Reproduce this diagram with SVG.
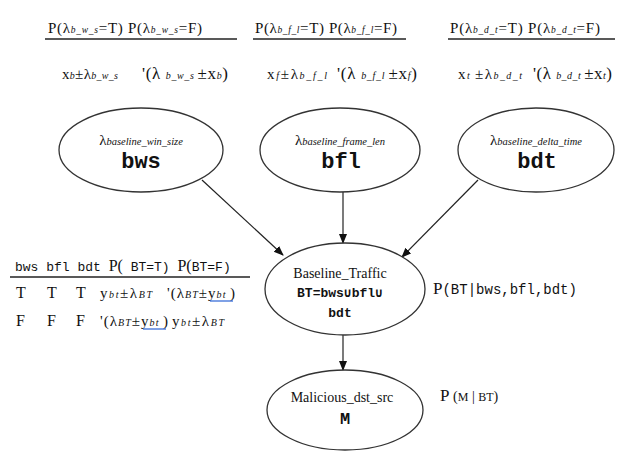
<svg xmlns="http://www.w3.org/2000/svg" width="619" height="452" viewBox="0 0 619 452">
<defs>
<marker id="ah" markerWidth="10" markerHeight="10" refX="9" refY="4" orient="auto" markerUnits="userSpaceOnUse">
<path d="M0,0 L10,4 L0,8 Z" fill="#111"/>
</marker>
<style>
.s{font-family:"Liberation Serif",serif;fill:#111}
.m{font-family:"Liberation Mono",monospace;fill:#111}
.i{font-style:italic}
.n{fill:#fff;stroke:#333;stroke-width:1.3}
.e{stroke:#222;stroke-width:1.2;fill:none;marker-end:url(#ah)}
.rule{stroke:#222;stroke-width:1.5}
</style>
</defs>
<rect width="619" height="452" fill="#fff"/>

<g id="tables">
<line class="rule" x1="45" y1="39" x2="237" y2="39"/>
<line class="rule" x1="253" y1="39" x2="406" y2="39"/>
<line class="rule" x1="448" y1="39" x2="615" y2="39"/>
<text class="s" x="48" y="33" font-size="15" textLength="154">P(λ<tspan class="i" font-size="9.5">b_w_s</tspan>=T) P(λ<tspan class="i" font-size="9.5">b_w_s</tspan>=F)</text>
<text class="s" x="255" y="33" font-size="15" textLength="142">P(λ<tspan class="i" font-size="9.5">b_f_l</tspan>=T) P(λ<tspan class="i" font-size="9.5">b_f_l</tspan>=F)</text>
<text class="s" x="450" y="33" font-size="15" textLength="150">P(λ<tspan class="i" font-size="9.5">b_d_t</tspan>=T) P(λ<tspan class="i" font-size="9.5">b_d_t</tspan>=F)</text>

<text class="s" x="62" y="79" font-size="15" textLength="56">x<tspan class="i" font-size="10">b</tspan>±λ<tspan class="i" font-size="10">b_w_s</tspan></text>
<text class="s" x="142" y="79" font-size="17" textLength="86">'(λ <tspan class="i" font-size="10">b_w_s </tspan>±x<tspan class="i" font-size="10">b</tspan>)</text>
<text class="s" x="267" y="79" font-size="15" textLength="60">x<tspan class="i" font-size="10">f</tspan>±λ<tspan class="i" font-size="10">b_f_l</tspan></text>
<text class="s" x="337" y="79" font-size="17" textLength="80">'(λ <tspan class="i" font-size="10">b_f_l </tspan>±x<tspan class="i" font-size="10">f</tspan>)</text>
<text class="s" x="458" y="79" font-size="15" textLength="64">x<tspan class="i" font-size="10">t </tspan>±λ<tspan class="i" font-size="10">b_d_t</tspan></text>
<text class="s" x="533" y="79" font-size="17" textLength="79">'(λ <tspan class="i" font-size="10">b_d_t </tspan>±x<tspan class="i" font-size="10">t</tspan>)</text>

<line class="rule" x1="10" y1="277" x2="250" y2="277"/>
<text x="15" y="271"><tspan class="m" font-size="13">bws bfl bdt </tspan><tspan class="s" font-size="16">P(</tspan><tspan class="m" font-size="13"> BT=T)  </tspan><tspan class="s" font-size="16">P(</tspan><tspan class="m" font-size="13">BT=F)</tspan></text>
<text class="s" font-size="16" y="298"><tspan x="16">T</tspan><tspan x="47">T</tspan><tspan x="76">T</tspan></text>
<text class="s" x="100" y="298" font-size="15" textLength="52">y<tspan class="i" font-size="10">bt</tspan>±λ<tspan class="i" font-size="10">BT</tspan></text>
<text class="s" x="167" y="298" font-size="15" textLength="68">'(λ<tspan class="i" font-size="10">BT</tspan>±y<tspan class="i" font-size="10">bt </tspan>)</text>
<line x1="210" y1="301" x2="233" y2="301" stroke="#3a6fd8" stroke-width="1.3"/>
<text class="s" font-size="16" y="326"><tspan x="16">F</tspan><tspan x="47">F</tspan><tspan x="76">F</tspan></text>
<text class="s" x="100" y="326" font-size="15" textLength="68">'(λ<tspan class="i" font-size="10">BT</tspan>±y<tspan class="i" font-size="10">bt </tspan>)</text>
<line x1="143" y1="329" x2="166" y2="329" stroke="#3a6fd8" stroke-width="1.3"/>
<text class="s" x="172" y="326" font-size="15" textLength="52">y<tspan class="i" font-size="10">bt</tspan>±λ<tspan class="i" font-size="10">BT</tspan></text>

<text x="433" y="294"><tspan class="s" font-size="17">P</tspan><tspan class="m" font-size="14">(BT|bws,bfl,bdt)</tspan></text>
<text x="440" y="401"><tspan class="s" font-size="17">P </tspan><tspan class="s" font-size="14">(</tspan><tspan class="s" font-size="12">M</tspan><tspan class="s" font-size="14"> | </tspan><tspan class="s" font-size="12">BT</tspan><tspan class="s" font-size="14">)</tspan></text>
</g>

<g id="edges">
<line class="e" x1="202" y1="180" x2="283" y2="255"/>
<line class="e" x1="343" y1="192" x2="343" y2="243"/>
<line class="e" x1="478" y1="180" x2="402" y2="257"/>
<line class="e" x1="343" y1="335" x2="343" y2="370"/>
</g>

<g id="bws">
<ellipse class="n" cx="141" cy="150" rx="82" ry="42"/>
<text class="s" x="141" y="145" font-size="15" text-anchor="middle">λ<tspan class="i" font-size="10.5">baseline_win_size</tspan></text>
<text class="m" x="141" y="168" font-size="22" font-weight="bold" text-anchor="middle">bws</text>
</g>

<g id="bfl">
<ellipse class="n" cx="340" cy="150" rx="80" ry="42"/>
<text class="s" x="340" y="145" font-size="15" text-anchor="middle">λ<tspan class="i" font-size="10.5">baseline_frame_len</tspan></text>
<text class="m" x="341" y="168" font-size="22" font-weight="bold" text-anchor="middle">bfl</text>
</g>

<g id="bdt">
<ellipse class="n" cx="536" cy="150" rx="78" ry="42"/>
<text class="s" x="536" y="145" font-size="15" text-anchor="middle">λ<tspan class="i" font-size="10.5">baseline_delta_time</tspan></text>
<text class="m" x="537" y="168" font-size="22" font-weight="bold" text-anchor="middle">bdt</text>
</g>

<g id="BT">
<ellipse class="n" cx="345" cy="289" rx="80" ry="46"/>
<text class="s" x="340" y="278" font-size="14" text-anchor="middle">Baseline_Traffic</text>
<text class="m" x="340" y="297" font-size="13" font-weight="bold" text-anchor="middle">BT=bws∪bfl∪</text>
<text class="m" x="340" y="317" font-size="13" font-weight="bold" text-anchor="middle">bdt</text>
</g>

<g id="M">
<ellipse class="n" cx="345" cy="410" rx="78" ry="40"/>
<text class="s" x="342" y="402" font-size="14" text-anchor="middle">Malicious_dst_src</text>
<text class="m" x="345" y="424" font-size="17" font-weight="bold" text-anchor="middle">M</text>
</g>
</svg>
